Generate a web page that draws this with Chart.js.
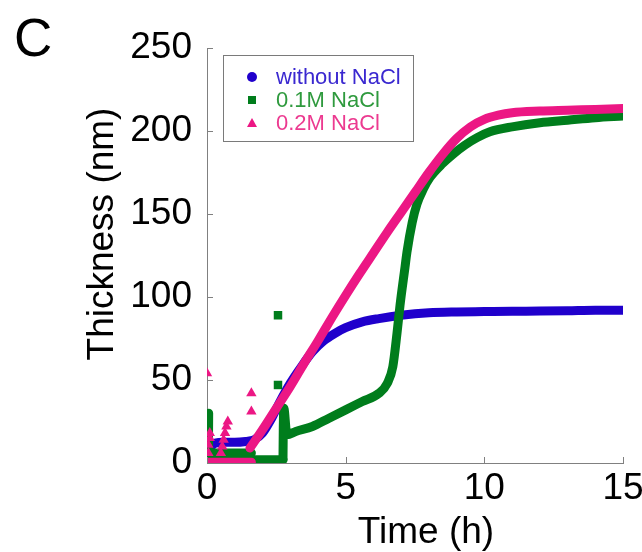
<!DOCTYPE html>
<html>
<head>
<meta charset="utf-8">
<title>Thickness vs time</title>
<script src="https://cdn.jsdelivr.net/npm/chart.js@4.4.1/dist/chart.umd.min.js"></script>
<style>
  html, body { margin: 0; padding: 0; background: #fff; }
  #wrap { position: relative; width: 642px; height: 552px; }
</style>
</head>
<body>
<div id="wrap"><canvas id="thicknessChart" width="642" height="552"></canvas></div>
<script>
  // film thickness (nm) against time (h)
  const xTicks = [0, 5, 10, 15];
  const yTicks = [0, 50, 100, 150, 200, 250];

  const seriesNames = ['without NaCl', '0.1M NaCl', '0.2M NaCl'];
  const seriesColors = ['#2000cc', '#007d1c', '#ec1784'];
  const legendTextColors = ['#3a28d0', '#2f9a3e', '#ec3a90'];

  // without NaCl
  const blueT = [0, 0.1, 0.3, 0.6, 1.0, 1.4, 1.7, 2.0, 2.3, 2.6, 3.0, 3.4, 3.8, 4.2, 4.6, 5.0, 5.6, 6.2, 7.0, 8.0, 9.0, 10, 11, 12, 13, 14, 15];
  const blueY = [7, 9, 12, 12.5, 12.5, 13, 14, 18, 26, 36, 48, 58, 67, 73.5, 78, 81.5, 85, 87, 89, 90.5, 91, 91.2, 91.4, 91.5, 91.7, 92, 92];

  // 0.1M NaCl
  const greenBaseT = [0, 0.5, 1.0, 1.5, 2.0, 2.5, 2.74];
  const greenBaseY = [2, 2, 2, 2, 2, 2, 2];
  const greenSpikeT = [0.05, 0.06];
  const greenSpikeY = [2, 30];
  const greenLowT = [0.05, 0.4, 0.8, 1.2, 1.6];
  const greenLowY = [6, 6, 6, 6, 6];
  const greenT = [2.74, 2.75, 2.77, 2.88, 3.2, 3.8, 4.4, 5.0, 5.6, 6.2, 6.5, 6.7, 6.85, 6.96, 7.14, 7.21, 7.4, 7.57, 7.8, 8.04, 8.5, 8.87, 9.3, 9.74, 10.2, 11, 12, 13, 14, 15];
  const greenY = [2, 20, 33, 17, 19, 22, 27, 32, 37, 42, 48, 58, 78, 95, 118, 127, 145, 156, 165, 172, 180.5, 186, 191.5, 196, 199.5, 202.5, 205, 206.5, 208, 209];
  const greenDotsT = [2.56, 2.56];
  const greenDotsY = [89, 47];

  // 0.2M NaCl
  const pinkBaseT = [0, 0.4, 0.8, 1.2, 1.6];
  const pinkBaseY = [0.5, 0.5, 0.5, 0.5, 0.5];
  const pinkT = [1.55, 2.0, 2.5, 3.0, 3.5, 4.0, 4.5, 5.0, 5.5, 6.0, 6.5, 7.0, 7.5, 8.0, 8.5, 9.0, 9.5, 10, 10.5, 11, 12, 13, 14, 15];
  const pinkY = [9, 20, 33, 46, 60, 73.5, 87.5, 101, 114, 126.5, 139, 151, 163, 175, 186, 195.5, 202.5, 207, 209.5, 211, 212, 212.5, 213, 213.5];
  const pinkDotsT = [0.0, 0.05, 0.05, 0.1, 0.1, 0.5, 0.55, 0.6, 0.65, 0.7, 0.75, 1.6, 1.6];
  const pinkDotsY = [54, 6, 11, 15, 18, 6, 10, 14, 18, 22, 25, 42, 31];

  const pts = (xs, ys) => xs.map((x, i) => ({ x: x, y: ys[i] }));

  function band(xs, ys, color, order) {
    return {
      type: 'line',
      data: pts(xs, ys),
      borderColor: color,
      backgroundColor: color,
      borderWidth: 9,
      borderCapStyle: 'round',
      borderJoinStyle: 'round',
      pointRadius: 0,
      cubicInterpolationMode: 'monotone',
      order: order
    };
  }

  function dots(xs, ys, color, style, order) {
    return {
      type: 'scatter',
      data: pts(xs, ys),
      borderColor: color,
      backgroundColor: color,
      pointStyle: style,
      pointRadius: 6,
      borderWidth: 0,
      order: order
    };
  }

  const FONT = '"Liberation Sans", Arial, Helvetica, sans-serif';

  // inward ticks on the left and bottom spines
  const innerTicks = {
    id: 'innerTicks',
    afterDraw(chart) {
      const { ctx, chartArea, scales } = chart;
      ctx.save();
      ctx.strokeStyle = '#808080';
      ctx.lineWidth = 1;
      ctx.beginPath();
      xTicks.forEach((v) => {
        const px = Math.round(scales.x.getPixelForValue(v)) + 0.5;
        ctx.moveTo(px, chartArea.bottom);
        ctx.lineTo(px, chartArea.bottom - 6);
      });
      yTicks.forEach((v) => {
        const py = Math.round(scales.y.getPixelForValue(v)) + 0.5;
        ctx.moveTo(chartArea.left, py);
        ctx.lineTo(chartArea.left + 6, py);
      });
      ctx.stroke();
      ctx.restore();
    }
  };

  // axis titles, panel letter and the boxed legend
  const decorations = {
    id: 'decorations',
    afterDraw(chart) {
      const { ctx } = chart;
      ctx.save();
      ctx.fillStyle = '#000';
      ctx.font = '53px ' + FONT;
      ctx.textAlign = 'left';
      ctx.textBaseline = 'alphabetic';
      ctx.fillText('C', 14, 56);

      ctx.font = '37px ' + FONT;
      ctx.textAlign = 'center';
      ctx.fillText('Time (h)', 426, 543);

      ctx.translate(113, 234);
      ctx.rotate(-Math.PI / 2);
      ctx.fillText('Thickness (nm)', 0, 0);
      ctx.restore();

      ctx.save();
      ctx.fillStyle = '#fff';
      ctx.fillRect(223, 55, 190, 86);
      ctx.strokeStyle = '#7a7a7a';
      ctx.lineWidth = 1;
      ctx.strokeRect(223.5, 55.5, 190, 86);
      const rows = [77, 100, 123];
      ctx.font = '22px ' + FONT;
      ctx.textAlign = 'left';
      ctx.textBaseline = 'middle';
      rows.forEach((y, i) => {
        ctx.fillStyle = seriesColors[i];
        ctx.beginPath();
        if (i === 0) {
          ctx.arc(252, y, 5, 0, Math.PI * 2);
        } else if (i === 1) {
          ctx.rect(248, y - 4, 8, 8);
        } else {
          ctx.moveTo(252, y - 5);
          ctx.lineTo(257, y + 4);
          ctx.lineTo(247, y + 4);
          ctx.closePath();
        }
        ctx.fill();
        ctx.fillStyle = legendTextColors[i];
        ctx.fillText(seriesNames[i], 276, y + 1);
      });
      ctx.restore();
    }
  };

  new Chart(document.getElementById('thicknessChart'), {
    data: {
      datasets: [
        band(blueT, blueY, seriesColors[0], 4),
        band(greenBaseT, greenBaseY, seriesColors[1], 3),
        band(greenSpikeT, greenSpikeY, seriesColors[1], 3),
        band(greenLowT, greenLowY, seriesColors[1], 3),
        band(greenT, greenY, seriesColors[1], 2),
        dots(greenDotsT, greenDotsY, seriesColors[1], 'rect', 2),
        band(pinkBaseT, pinkBaseY, seriesColors[2], 1),
        band(pinkT, pinkY, seriesColors[2], 0),
        dots(pinkDotsT, pinkDotsY, seriesColors[2], 'triangle', 0)
      ]
    },
    options: {
      responsive: false,
      animation: false,
      devicePixelRatio: 1,
      layout: { padding: { top: 48, right: 19, left: 0, bottom: 0 } },
      plugins: { legend: { display: false }, tooltip: { enabled: false } },
      scales: {
        x: {
          type: 'linear',
          min: 0,
          max: 15,
          afterFit: (scale) => {
            scale.height = 89;
            scale.paddingLeft = 0;
            scale.paddingRight = 0;
          },
          afterBuildTicks: (scale) => { scale.ticks = xTicks.map((v) => ({ value: v })); },
          grid: { display: false, drawTicks: false },
          border: { display: true, color: '#808080', width: 1 },
          ticks: { color: '#000', padding: 4, font: { family: FONT, size: 37 }, maxRotation: 0 }
        },
        y: {
          type: 'linear',
          min: 0,
          max: 250,
          afterFit: (scale) => {
            scale.width = 207;
            scale.paddingTop = 0;
            scale.paddingBottom = 0;
          },
          afterBuildTicks: (scale) => { scale.ticks = yTicks.map((v) => ({ value: v })); },
          grid: { display: false, drawTicks: false },
          border: { display: true, color: '#808080', width: 1 },
          ticks: { color: '#000', padding: 15, font: { family: FONT, size: 37 } }
        }
      }
    },
    plugins: [innerTicks, decorations]
  });
</script>
</body>
</html>
